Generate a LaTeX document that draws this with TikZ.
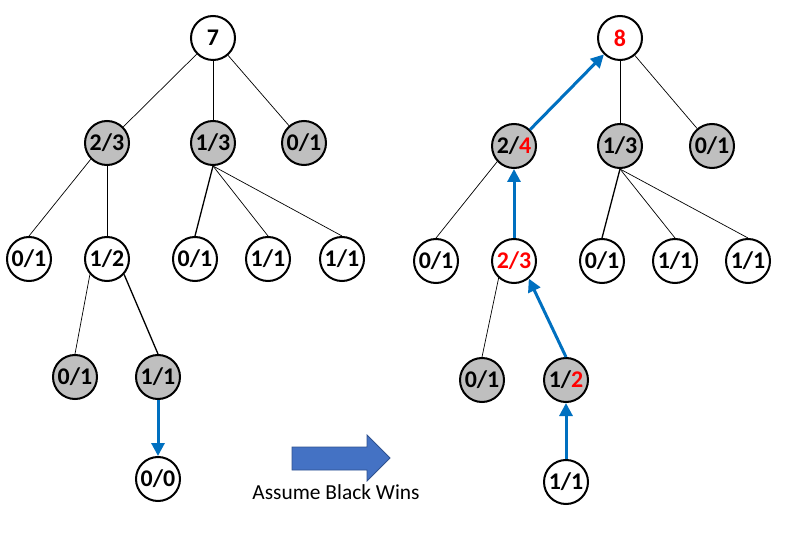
\documentclass[tikz,border=0pt]{standalone}
\usepackage{fontspec}
\setmainfont{Carlito}
\usetikzlibrary{arrows.meta}
\definecolor{nodegray}{HTML}{BFBFBF}
\definecolor{pathblue}{HTML}{0070C0}
\definecolor{bigblue}{HTML}{4472C4}
\definecolor{bigedge}{HTML}{2F528F}
\definecolor{hired}{HTML}{FF0000}
\begin{document}
\begin{tikzpicture}[x=1bp,y=-1bp,
  tn/.style={circle,draw,line width=2bp,minimum size=44bp,inner sep=0pt,
    font=\fontsize{24}{24}\selectfont\bfseries,fill=white},
  gn/.style={tn,fill=nodegray},
  link/.style={line width=0.7bp},
  thicklink/.style={line width=1.3bp},
  bluearr/.style={draw=pathblue,line width=3bp,-{Triangle[length=13bp,width=13bp]}}]
\useasboundingbox (0,0) rectangle (794,556);
% ---------- left tree ----------
\node[tn] (L7) at (213,38) {7};
\node[gn] (L23) at (107,143) {2/3};
\node[gn] (L13) at (213,143) {1/3};
\node[gn] (L01a) at (304,143) {0/1};
\node[tn] (L01b) at (29,259) {0/1};
\node[tn] (L12) at (107,259) {1/2};
\node[tn] (L01c) at (195,259) {0/1};
\node[tn] (L11a) at (268,259) {1/1};
\node[tn] (L11b) at (342,259) {1/1};
\node[gn] (L01d) at (75,377) {0/1};
\node[gn] (L11c) at (158,377) {1/1};
\node[tn] (L00) at (158,479) {0/0};
\draw[link] (L7) -- (L23);
\draw[link] (L7) -- (L13);
\draw[link] (L7) -- (L01a);
\draw[link] (L23.225) -- (L01b.north);
\draw[link] (L23) -- (L12);
\draw[thicklink] (L13.south) -- (L01c.north);
\draw[link] (L13.south) -- (L11a.north);
\draw[link] (L13.south) -- (L11b.north);
\draw[link] (L12.222) -- (L01d.north);
\draw[thicklink] (L12.318) -- (L11c.north);
\draw[bluearr] (L11c.south) -- (L00.north);
% ---------- big arrow ----------
\coordinate (BA0) at (292,447);
\coordinate (BA1) at (367,447);
\coordinate (BA2) at (367,435);
\coordinate (BA3) at (390,458);
\coordinate (BA4) at (367,481);
\coordinate (BA5) at (367,470);
\coordinate (BA6) at (292,470);
\draw[fill=bigblue,draw=bigedge,line width=0.8bp] (BA0) -- (BA1) -- (BA2) -- (BA3) -- (BA4) -- (BA5) -- (BA6) -- cycle;
\node[font=\fontsize{21.5}{22}\selectfont] (lbl) at (336,492) {Assume Black Wins};
% ---------- right tree ----------
\node[tn] (R8) at (620,38) {\textcolor{hired}{8}};
\node[gn] (R24) at (514,146) {2/\textcolor{hired}{4}};
\node[gn] (R13) at (620,146) {1/3};
\node[gn] (R01a) at (712,146) {0/1};
\node[tn] (R01b) at (436,261) {0/1};
\node[tn] (R23) at (514,261) {\textcolor{hired}{2/3}};
\node[tn] (R01c) at (602,261) {0/1};
\node[tn] (R11a) at (675,261) {1/1};
\node[tn] (R11b) at (748,261) {1/1};
\node[gn] (R01d) at (482,380) {0/1};
\node[gn] (R12) at (566,380) {1/\textcolor{hired}{2}};
\node[tn] (R11c) at (566,482) {1/1};
\draw[link] (R8) -- (R13);
\draw[link] (R8) -- (R01a);
\draw[link] (R24.223) -- (R01b.north);
\draw[thicklink] (R13.south) -- (R01c.north);
\draw[link] (R13.south) -- (R11a.north);
\draw[link] (R13.south) -- (R11b.north);
\draw[link] (R23.228) -- (R01d.north);
\draw[bluearr] (R11c.north) -- (R12.south);
\draw[bluearr] (R12.north) -- (R23.310);
\draw[bluearr] (R23.north) -- (R24.south);
\draw[bluearr] (R24) -- (R8);
\end{tikzpicture}
\end{document}
